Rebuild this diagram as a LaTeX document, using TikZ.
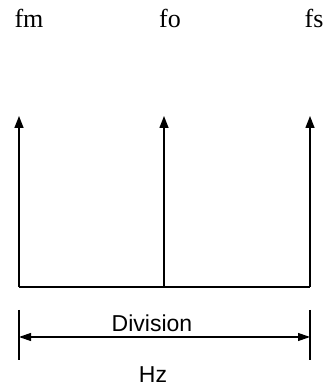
\documentclass[tikz,border=0pt]{standalone}
\usepackage{fontspec}
\setmainfont{Liberation Serif}
\newfontfamily\labelsans{Liberation Sans}
\usetikzlibrary{arrows.meta,positioning}

\begin{document}
\begin{tikzpicture}[
    x=1pt, y=1pt,
    freq/.style={
        font=\fontsize{26}{30}\selectfont,
        anchor=base,
        inner sep=0pt
    },
    dimtext/.style={
        font=\labelsans\fontsize{23}{27}\selectfont,
        anchor=base,
        inner sep=0pt
    },
    spike/.style={-{Triangle[length=12pt, width=9pt]}, line width=1.4pt},
    base/.style={line width=1.4pt},
    tick/.style={line width=1.2pt},
    dim/.style={{Triangle[length=12pt, width=8pt]}-{Triangle[length=12pt, width=8pt]}, line width=1.2pt}
]
    \useasboundingbox (0,0) rectangle (324,387);

    %% Frequency labels
    \node[freq] (fm) at (29,359) {fm};
    \node[freq] (fo) at (170,359) {fo};
    \node[freq] (fs) at (314,359) {fs};

    %% Spectral lines
    \coordinate (bm) at (19,100);
    \coordinate (bo) at (164,100);
    \coordinate (bs) at (310,100);
    \coordinate (tm) at (19,271);
    \coordinate (to) at (164,271);
    \coordinate (ts) at (310,271);
    \draw[spike] (bm) -- (tm);
    \draw[spike] (bo) -- (to);
    \draw[spike] (bs) -- (ts);
    \draw[base] (bm) -- (bs);

    %% Division
    \coordinate (lt) at (19,77);
    \coordinate (lb) at (19,27);
    \coordinate (rt) at (310,77);
    \coordinate (rb) at (310,27);
    \draw[tick] (lt) -- (lb);
    \draw[tick] (rt) -- (rb);
    \coordinate (dl) at (19,50);
    \coordinate (dr) at (310,50);
    \draw[dim] (dl) -- (dr);
    \node[dimtext] (division) at (152,55) {Division};
    \node[dimtext] (hz) at (153,5) {Hz};
\end{tikzpicture}
\end{document}
